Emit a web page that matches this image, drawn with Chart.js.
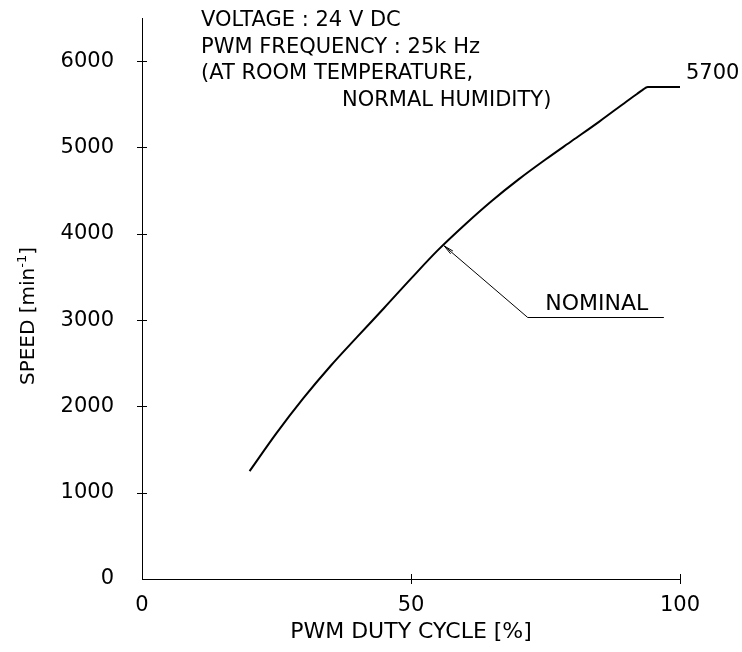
<!DOCTYPE html>
<html>
<head>
<meta charset="utf-8">
<script src="https://cdn.jsdelivr.net/npm/chart.js@4"></script>
<style>
  html, body { margin: 0; padding: 0; background: #fff; }
  #wrap { width: 742px; height: 652px; }
</style>
</head>
<body>
<div id="wrap"><canvas id="chart" width="742" height="652"></canvas></div>
<script>
// PWM duty cycle [%] vs fan speed [min-1]
const dutyCycle = [20, 25, 30, 35, 40, 45, 50, 55, 60, 65, 70, 75, 80, 85, 90, 92, 93, 94, 100];
const speed = [1250, 1690, 2095, 2465, 2805, 3140, 3480, 3810, 4105, 4380, 4630, 4860, 5080, 5300, 5530, 5620, 5665, 5700, 5700];
const xTickLabels = [0, 50, 100];
const yTickLabels = [0, 1000, 2000, 3000, 4000, 5000, 6000];
const noteLines = ["VOLTAGE : 24 V DC", "PWM FREQUENCY : 25k Hz", "(AT ROOM TEMPERATURE,", "NORMAL HUMIDITY)"];
const maxSpeedLabel = "5700";
const nominalLabel = "NOMINAL";
const nominalDuty = 56;
const nominalSpeed = 3870;

const FONT = '"DejaVu Sans", Verdana, sans-serif';

// extra drawing: crossing ticks, notes, nominal arrow, y title with superscript
const extras = {
  id: "extras",
  afterDraw(chart) {
    const ctx = chart.ctx;
    const x = chart.scales.x;
    const y = chart.scales.y;
    const area = chart.chartArea;
    ctx.save();
    ctx.strokeStyle = "#000";
    ctx.fillStyle = "#000";
    ctx.lineWidth = 1;

    // tick marks crossing the axes
    x.ticks.forEach(t => {
      if (t.value === 0) return;
      const px = Math.round(x.getPixelForValue(t.value)) + 0.5;
      ctx.beginPath();
      ctx.moveTo(px, area.bottom - 5);
      ctx.lineTo(px, area.bottom + 5);
      ctx.stroke();
    });
    y.ticks.forEach(t => {
      if (t.value === 0 || t.value === y.max) return;
      const py = Math.round(y.getPixelForValue(t.value)) + 0.5;
      ctx.beginPath();
      ctx.moveTo(area.left - 5, py);
      ctx.lineTo(area.left + 5, py);
      ctx.stroke();
    });

    // condition notes
    ctx.font = "21px " + FONT;
    ctx.textBaseline = "alphabetic";
    ctx.textAlign = "left";
    const noteX = [201, 201, 201, 342];
    noteLines.forEach((line, i) => {
      ctx.fillText(line, noteX[i], 26 + i * 26.5);
    });

    // max speed label
    ctx.font = "21px " + FONT;
    ctx.textBaseline = "middle";
    ctx.fillText(maxSpeedLabel, x.getPixelForValue(100) + 6, y.getPixelForValue(5700) - 13);

    // nominal leader line
    ctx.font = "22px " + FONT;
    const tipX = x.getPixelForValue(nominalDuty);
    const tipY = y.getPixelForValue(nominalSpeed);
    const elbowX = x.getPixelForValue(71.7);
    const elbowY = Math.round(y.getPixelForValue(3040)) + 0.5;
    const endX = x.getPixelForValue(97);
    ctx.beginPath();
    ctx.moveTo(endX, elbowY);
    ctx.lineTo(elbowX, elbowY);
    ctx.lineTo(tipX + 1, tipY + 1);
    ctx.stroke();
    const ang = Math.atan2(elbowY - tipY, elbowX - tipX);
    ctx.beginPath();
    ctx.moveTo(tipX + 1 + 10 * Math.cos(ang - 0.18), tipY + 1 + 10 * Math.sin(ang - 0.18));
    ctx.lineTo(tipX + 1, tipY + 1);
    ctx.lineTo(tipX + 1 + 10 * Math.cos(ang + 0.18), tipY + 1 + 10 * Math.sin(ang + 0.18));
    ctx.stroke();
    ctx.textAlign = "center";
    ctx.textBaseline = "alphabetic";
    ctx.fillText(nominalLabel, (elbowX + endX) / 2 + 1, elbowY - 8);

    // y axis title
    ctx.translate(34, 316);
    ctx.rotate(-Math.PI / 2);
    ctx.textAlign = "left";
    const big = "20px " + FONT;
    const small = "13px " + FONT;
    ctx.font = big;
    const a = "SPEED [min";
    const wa = ctx.measureText(a).width;
    ctx.font = small;
    const sup = "-1";
    const ws = ctx.measureText(sup).width;
    ctx.font = big;
    const wb = ctx.measureText("]").width;
    let cx = -(wa + ws + wb) / 2;
    ctx.fillText(a, cx, 0);
    cx += wa;
    ctx.font = small;
    ctx.fillText(sup, cx, -8);
    cx += ws;
    ctx.font = big;
    ctx.fillText("]", cx, 0);
    ctx.restore();
  }
};

new Chart(document.getElementById("chart"), {
  type: "line",
  data: {
    datasets: [{
      data: dutyCycle.map((d, i) => ({ x: d, y: speed[i] })),
      borderColor: "#000",
      borderWidth: 2,
      pointRadius: 0,
      fill: false,
      cubicInterpolationMode: "monotone"
    }]
  },
  options: {
    responsive: false,
    animation: false,
    layout: { padding: { top: 18, right: 62, left: 0, bottom: 0 } },
    plugins: {
      legend: { display: false },
      tooltip: { enabled: false }
    },
    scales: {
      x: {
        type: "linear",
        min: 0,
        max: 100,
        afterFit: s => { s.height = 73; },
        grid: { display: false, drawTicks: false },
        border: { display: true, color: "#000", width: 1 },
        ticks: {
          stepSize: 10,
          autoSkip: false,
          maxRotation: 0,
          padding: 14,
          color: "#000",
          font: { family: FONT, size: 21 },
          callback: v => xTickLabels.includes(v) ? String(v) : null
        },
        title: {
          display: true,
          text: "PWM DUTY CYCLE [%]",
          color: "#000",
          font: { family: FONT, size: 22 },
          padding: { top: 0, bottom: 7 }
        }
      },
      y: {
        type: "linear",
        min: 0,
        max: 6500,
        afterFit: s => { s.width = 142; s.paddingTop = 0; s.paddingBottom = 0; },
        grid: { display: false, drawTicks: false },
        border: { display: true, color: "#000", width: 1 },
        ticks: {
          stepSize: 500,
          autoSkip: false,
          padding: 28,
          color: "#000",
          font: { family: FONT, size: 21 },
          callback: v => yTickLabels.includes(v) ? String(v) : null
        }
      }
    }
  },
  plugins: [extras]
});
</script>
</body>
</html>
